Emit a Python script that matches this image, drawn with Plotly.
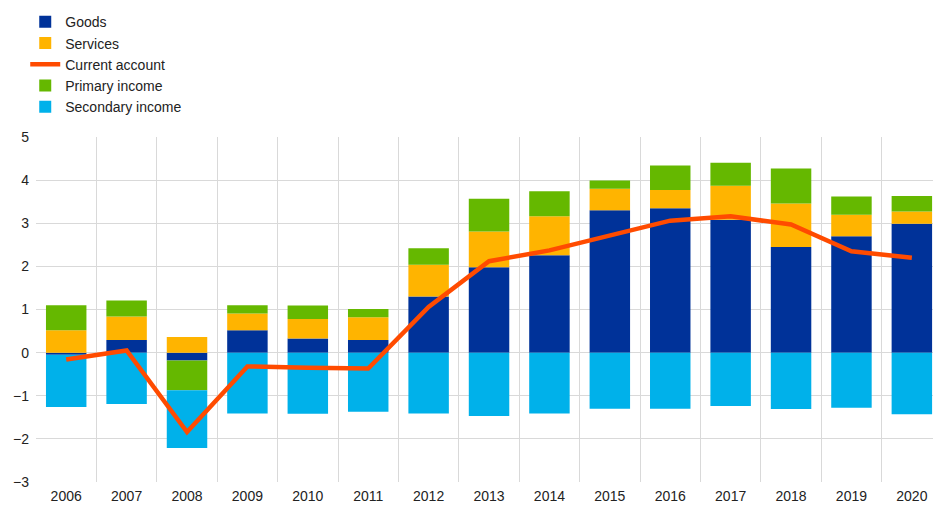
import plotly.graph_objects as go

years = [str(y) for y in range(2006, 2021)]
goods = [-0.05, 0.29, -0.18, 0.52, 0.33, 0.29, 1.30, 1.98, 2.26, 3.30, 3.35, 3.08, 2.45, 2.70, 2.99]
services = [0.52, 0.55, 0.36, 0.39, 0.45, 0.53, 0.74, 0.83, 0.90, 0.50, 0.42, 0.79, 1.01, 0.50, 0.28]
primary = [0.58, 0.37, -0.69, 0.19, 0.31, 0.19, 0.38, 0.76, 0.58, 0.19, 0.57, 0.53, 0.81, 0.42, 0.36]
secondary = [-1.21, -1.19, -1.34, -1.41, -1.42, -1.37, -1.41, -1.47, -1.41, -1.30, -1.30, -1.24, -1.31, -1.28, -1.43]
current_account = [-0.16, 0.05, -1.84, -0.32, -0.35, -0.37, 1.06, 2.12, 2.37, 2.72, 3.06, 3.16, 2.97, 2.35, 2.20]

C_GOODS = "#003299"
C_SERV = "#FFB400"
C_CA = "#FF4B00"
C_PRIM = "#65B800"
C_SEC = "#00B1EA"

fig = go.Figure()
fig.add_trace(go.Bar(x=years, y=goods, name="Goods", marker=dict(color=C_GOODS, line=dict(width=0)), legendrank=1, legendgroup="a"))
fig.add_trace(go.Bar(x=years, y=services, name="Services", marker=dict(color=C_SERV, line=dict(width=0)), legendrank=2, legendgroup="b"))
fig.add_trace(go.Bar(x=years, y=primary, name="Primary income", marker=dict(color=C_PRIM, line=dict(width=0)), legendrank=4, legendgroup="d"))
fig.add_trace(go.Bar(x=years, y=secondary, name="Secondary income", marker=dict(color=C_SEC, line=dict(width=0)), legendrank=5, legendgroup="e"))
fig.add_trace(go.Scatter(x=years, y=current_account, name="Current account", mode="lines",
                         line=dict(color=C_CA, width=4.5), legendrank=3, legendgroup="c"))

fig.update_layout(
    width=933, height=506,
    barmode="relative",
    bargap=0.33,
    plot_bgcolor="white",
    paper_bgcolor="white",
    font=dict(family="Liberation Sans, Arial, sans-serif", size=14, color="#222222"),
    margin=dict(l=36, r=0, t=137, b=24),
    legend=dict(x=-0.012, y=1.379, xanchor="left", yanchor="top", bgcolor="rgba(0,0,0,0)",
                font=dict(size=14, color="#222222"), tracegroupgap=0, itemwidth=30),
    xaxis=dict(type="category", range=[-0.5, 14.35], tickson="boundaries", showgrid=True,
               gridcolor="#d9d9d9", gridwidth=1, ticks="", showline=False, tickfont=dict(size=14),
               ticklabelstandoff=4),
    yaxis=dict(range=[-3, 5], dtick=1, showgrid=True, gridcolor="#d9d9d9", gridwidth=1,
               zeroline=True, zerolinecolor="#d9d9d9", zerolinewidth=1, ticks="", showline=False,
               tickfont=dict(size=14), ticklabelstandoff=6),
)

fig.write_html("out.html", config={"displayModeBar": False},
               post_script="document.body.style.margin='0';document.body.style.overflow='hidden';")
